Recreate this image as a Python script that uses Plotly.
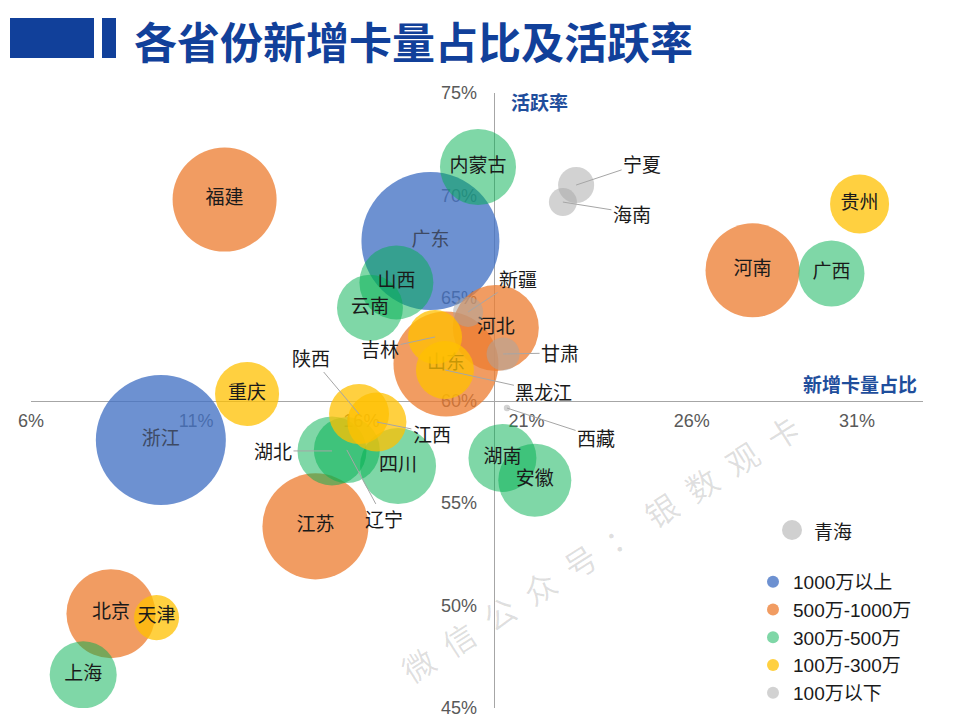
import plotly.graph_objects as go

# ---------------- data ----------------
provinces = ["广东", "浙江", "福建", "山东", "江苏", "河南", "北京", "河北",
             "内蒙古", "山西", "四川", "安徽", "湖南", "湖北", "辽宁", "云南", "广西", "上海",
             "重庆", "陕西", "江西", "贵州", "吉林", "黑龙江", "天津",
             "宁夏", "海南", "新疆", "甘肃", "西藏"]
share = [18.09, 9.93, 11.86, 18.56, 14.61, 27.84, 8.42, 20.07,
         19.53, 17.06, 17.11, 21.25, 20.27, 15.11, 15.56, 16.26, 30.23, 7.58,
         12.54, 15.93, 16.47, 31.08, 18.23, 18.53, 9.80,
         22.50, 22.10, 19.23, 20.29, 20.41]          # 新增卡量占比 (%)
active = [67.78, 58.07, 69.80, 61.78, 53.86, 66.35, 49.60, 63.54,
          71.39, 65.76, 56.80, 56.11, 57.20, 57.54, 57.59, 64.52, 66.20, 46.62,
          60.32, 59.34, 58.95, 69.59, 63.10, 61.49, 49.41,
          70.51, 69.68, 64.32, 62.27, 59.63]         # 活跃率 (%)
cards = [1360, 1207, 773, 787, 803, 631, 566, 528,
         413, 391, 413, 381, 330, 340, 311, 311, 311, 321,
         293, 257, 249, 249, 208, 240, 145,
         93, 56, 64, 78, 3]                          # 新增卡量 (万, 估计)
tier = [0, 0, 1, 1, 1, 1, 1, 1,
        2, 2, 2, 2, 2, 2, 2, 2, 2, 2,
        3, 3, 3, 3, 3, 3, 3,
        4, 4, 4, 4, 4]
tier_names = ["1000万以上", "500万-1000万", "300万-500万", "100万-300万", "100万以下"]
x_ticks = [6, 11, 16, 21, 26, 31]
y_ticks = [45, 50, 55, 60, 65, 70, 75]
x_ticktext = [f"{v}%" for v in x_ticks]
y_ticktext = [f"{v}%" for v in y_ticks]
note_name = "青海"

# ---------------- styles ----------------
tier_colors = ["rgba(68,114,196,0.78)", "rgba(237,125,49,0.76)", "rgba(0,176,80,0.5)",
               "rgba(255,192,0,0.75)", "rgba(165,165,165,0.5)"]
# labels drawn with a leader line: (dx, dy) pixel offsets
leader = {"新疆": (50, -33), "甘肃": (57, -1), "西藏": (89, 29), "宁夏": (66, -22),
          "海南": (69, 11), "吉林": (-55, 12), "陕西": (-48, -57), "江西": (55, 11),
          "湖北": (-59, 0), "辽宁": (37, 69), "黑龙江": (99, 22)}
label_color = {"广东": "#3e4a63", "浙江": "#3e4a63"}

W, H = 960, 720
ML, MR, MT, MB = 31, 37, 93, 12
PW, PH = W - ML - MR, H - MT - MB


def pxx(x):
    return (x - ML) / PW


def pxy(y):
    return (H - MB - y) / PH


LABEL_FONT = "Noto Sans CJK SC, Microsoft YaHei, sans-serif"
NUM_FONT = "Liberation Sans, Arial, Noto Sans CJK SC, sans-serif"
BLUE = "#1F4E9C"
XMIN, XMAX = 6, 33
YMIN, YMAX = 45, 75
X_CROSS, Y_CROSS = 20, 60

fig = go.Figure()
for t, name in enumerate(tier_names):
    idx = [i for i in range(len(provinces)) if tier[i] == t]
    fig.add_trace(go.Scatter(
        x=[share[i] for i in idx],
        y=[active[i] for i in idx],
        mode="markers+text",
        name=name,
        text=["" if provinces[i] in leader else provinces[i] for i in idx],
        textposition="middle center",
        textfont=dict(family=LABEL_FONT, size=19,
                      color=[label_color.get(provinces[i], "#1a1a1a") for i in idx]),
        marker=dict(size=[cards[i] for i in idx], sizemode="area", sizeref=1 / 7,
                    color=tier_colors[t], opacity=1, line=dict(width=0)),
        hoverinfo="skip",
    ))

annotations = []
for i, p in enumerate(provinces):
    if p in leader:
        dx, dy = leader[p]
        annotations.append(dict(
            x=share[i], y=active[i], xref="x", yref="y", text=p,
            showarrow=True, arrowhead=0, arrowwidth=1, arrowcolor="#A6A6A6",
            standoff=0, ax=dx, ay=dy,
            font=dict(family=LABEL_FONT, size=19, color="#1a1a1a")))


def paper_text(x, y, text, size, color, xanchor="center", angle=0):
    return dict(x=pxx(x), y=pxy(y), xref="paper", yref="paper",
                xanchor=xanchor, yanchor="middle", showarrow=False, text=text,
                textangle=angle, font=dict(family=LABEL_FONT, size=size, color=color))


annotations.append(paper_text(132, 40, "<b>各省份新增卡量占比及活跃率</b>", 43, "#11409A", "left"))
annotations.append(paper_text(539, 101, "<b>活跃率</b>", 19, BLUE))
annotations.append(paper_text(860, 383, "<b>新增卡量占比</b>", 19, BLUE))
annotations.append(paper_text(600, 548, "\u2002".join("微信公众号：银数观卡"), 32,
                              "rgba(0,0,0,0.13)", angle=-32.5))
annotations.append(paper_text(812, 530, note_name, 19, "#1a1a1a", "left"))

shapes = [
    dict(type="rect", xref="paper", yref="paper", x0=pxx(10), x1=pxx(94),
         y0=pxy(58), y1=pxy(18), fillcolor="#11409A", line=dict(width=0)),
    dict(type="rect", xref="paper", yref="paper", x0=pxx(102), x1=pxx(116),
         y0=pxy(58), y1=pxy(18), fillcolor="#11409A", line=dict(width=0)),
    dict(type="circle", xref="paper", yref="paper", x0=pxx(782), x1=pxx(802),
         y0=pxy(540), y1=pxy(520), fillcolor="#D0D0D0", line=dict(width=0)),
]

axis_common = dict(showgrid=False, zeroline=False, showline=True, linecolor="#A6A6A6",
                   linewidth=1, ticks="", anchor="free", layer="below traces",
                   tickfont=dict(family=NUM_FONT, size=18, color="#595959"))

fig.update_layout(
    width=W, height=H,
    margin=dict(l=ML, r=MR, t=MT, b=MB, autoexpand=False),
    paper_bgcolor="white", plot_bgcolor="white",
    xaxis=dict(range=[XMIN, XMAX], tickvals=x_ticks, ticktext=x_ticktext,
               position=(Y_CROSS - YMIN) / (YMAX - YMIN), ticklabelstandoff=4,
               **axis_common),
    yaxis=dict(range=[YMIN, YMAX], tickvals=y_ticks, ticktext=y_ticktext,
               position=(X_CROSS - XMIN) / (XMAX - XMIN), ticklabelstandoff=13,
               **axis_common),
    showlegend=True,
    legend=dict(x=pxx(753), y=pxy(563), xanchor="left", yanchor="top",
                itemsizing="constant", bgcolor="rgba(0,0,0,0)",
                font=dict(family=NUM_FONT, size=19, color="#1a1a1a"),
                tracegroupgap=0),
    annotations=annotations,
    shapes=shapes,
)

fig.write_html("out.html")
